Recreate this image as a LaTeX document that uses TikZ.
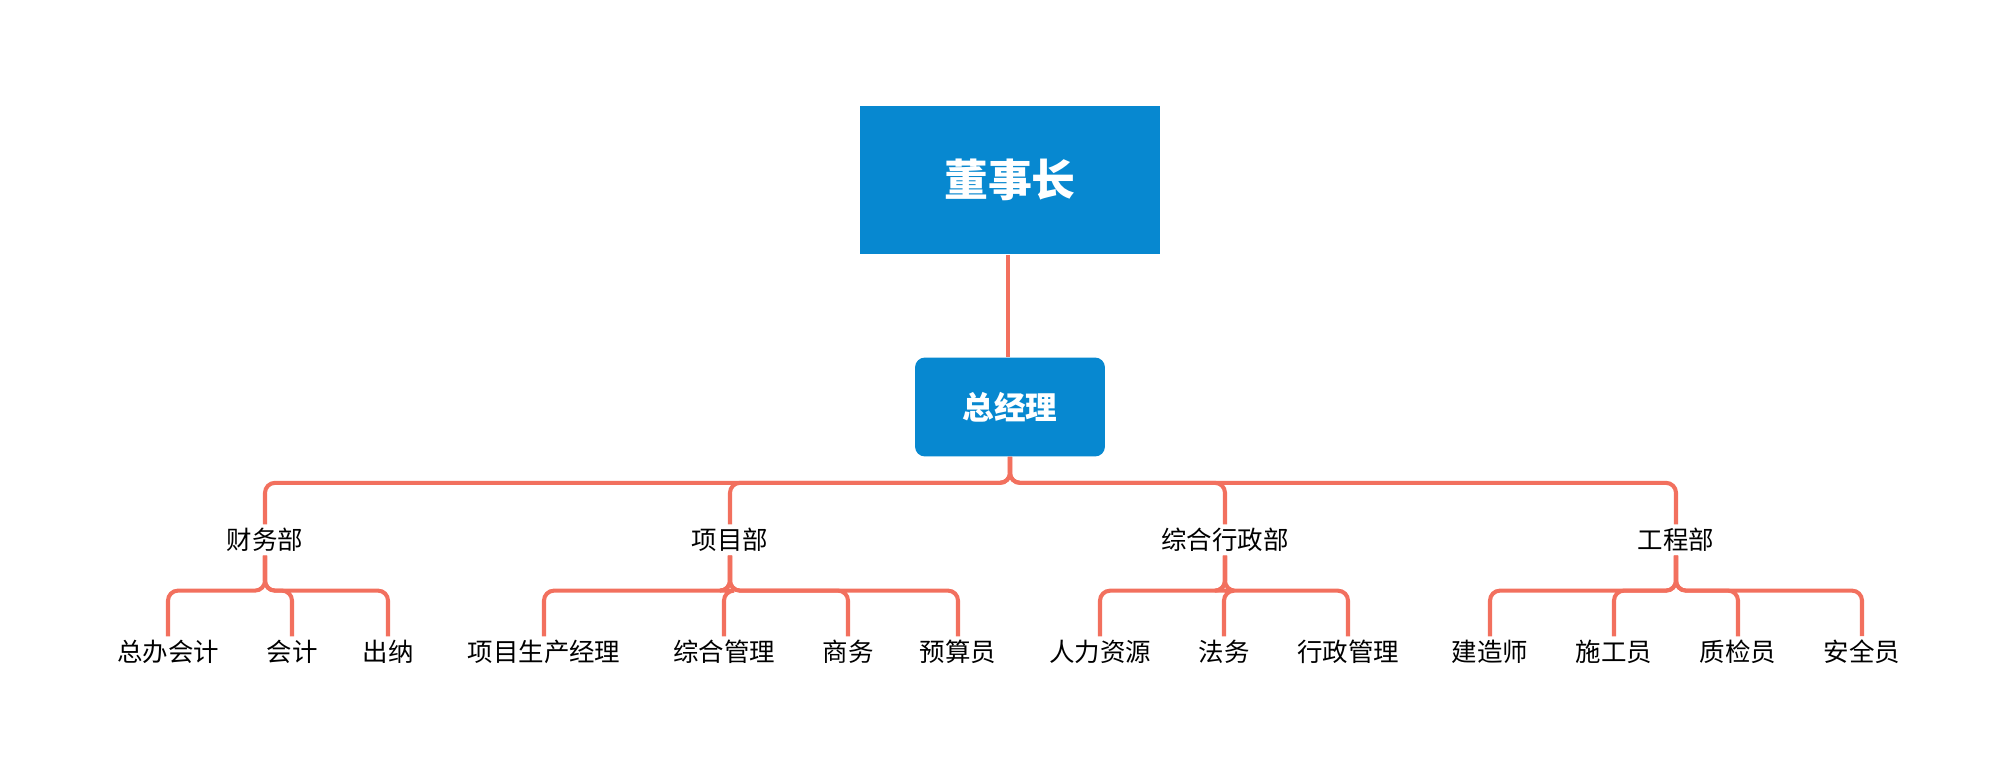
\documentclass[tikz,border=0pt]{standalone}
\usepackage{fontspec}
\newfontfamily\cjk{Noto Sans CJK SC}
\definecolor{boxblue}{HTML}{0788D0}
\definecolor{linkred}{HTML}{F2705E}
\tikzset{
  topbox/.style={fill=boxblue, text=white, font=\cjk\bfseries\fontsize{25}{30}\selectfont, minimum width=6cm, minimum height=2.98cm},
  gmbox/.style={fill=boxblue, text=white, rounded corners=0.2cm, font=\cjk\bfseries\fontsize{18}{22}\selectfont, minimum width=3.8cm, minimum height=1.98cm},
  dept/.style={font=\cjk\fontsize{14.5}{17}\selectfont, inner sep=2pt},
  leaf/.style={font=\cjk\fontsize{14.5}{17}\selectfont, inner sep=2pt},
  link/.style={draw=linkred, line width=2.3pt, rounded corners=0.2cm}
}
\begin{document}
\begin{tikzpicture}[x=0.02cm, y=-0.02cm]
        \useasboundingbox (0,0) rectangle (2016,782);
        \node (chair) [topbox] at (1010,180) {董事长};
        \node (gm) [gmbox] at (1010,407) {总经理};
        \draw [link] (chair.south -| 1008,0) -- (gm.north -| 1008,0);
        % departments
        \node (d1) [dept] at (265,540) {财务部};
        \node (d2) [dept] at (730,540) {项目部};
        \node (d3) [dept] at (1225,540) {综合行政部};
        \node (d4) [dept] at (1676,540) {工程部};
        \foreach \d in {d1,d2,d3,d4}
                \draw [link] (gm.south) -- ++(0,26) -| (\d.north);
        % staff
        \node (s1) [leaf] at (168,652) {总办会计};
        \node (s2) [leaf] at (292,652) {会计};
        \node (s3) [leaf] at (388,652) {出纳};
        \node (s4) [leaf] at (544,652) {项目生产经理};
        \node (s5) [leaf] at (724,652) {综合管理};
        \node (s6) [leaf] at (848,652) {商务};
        \node (s7) [leaf] at (958,652) {预算员};
        \node (s8) [leaf] at (1100,652) {人力资源};
        \node (s9) [leaf] at (1224,652) {法务};
        \node (s10) [leaf] at (1348,652) {行政管理};
        \node (s11) [leaf] at (1490,652) {建造师};
        \node (s12) [leaf] at (1614,652) {施工员};
        \node (s13) [leaf] at (1738,652) {质检员};
        \node (s14) [leaf] at (1862,652) {安全员};
        \foreach \d/\s in {d1/s1,d1/s2,d1/s3,d2/s4,d2/s5,d2/s6,d2/s7,d3/s8,d3/s9,d3/s10,d4/s11,d4/s12,d4/s13,d4/s14}
                \draw [link] (\d.south) -- ++(0,35) -| (\s.north);
\end{tikzpicture}
\end{document}
